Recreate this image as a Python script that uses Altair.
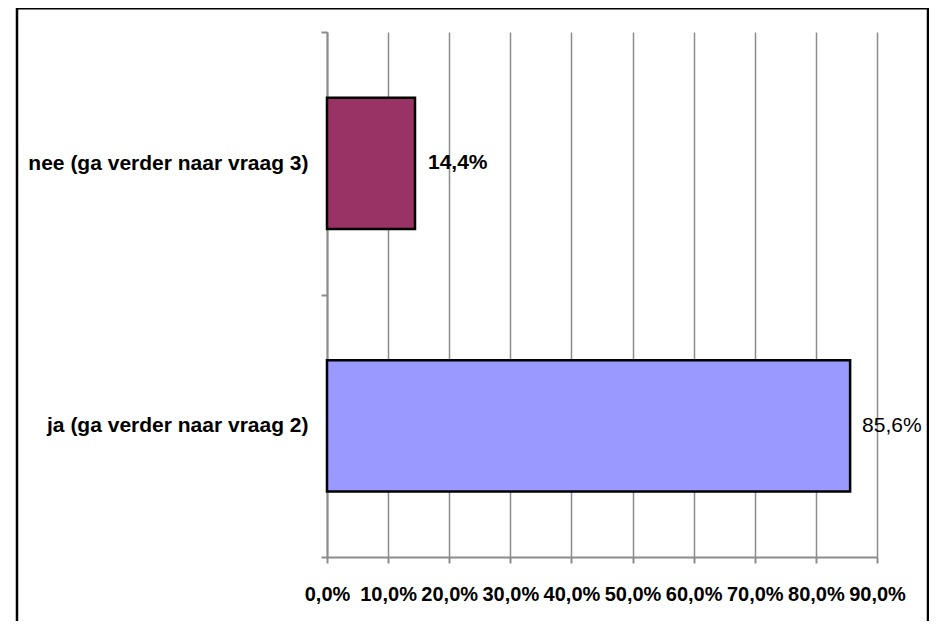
import altair as alt
import pandas as pd

categories = ["nee (ga verder naar vraag 3)", "ja (ga verder naar vraag 2)"]
values = [0.144, 0.856]
colors = ["#993366", "#9999FF"]
x_ticks = [0, 0.1, 0.2, 0.3, 0.4, 0.5, 0.6, 0.7, 0.8, 0.9]

df = pd.DataFrame({"cat": categories, "val": values})

FONT = "Liberation Sans"
GRAY = "#8c8c8c"

pct_expr = "replace(format(datum.value*100, '.1f'), '.', ',') + '%'"

x_enc = alt.X(
    "val:Q",
    scale=alt.Scale(domain=[0, 0.9], nice=False, zero=True),
    axis=alt.Axis(
        values=x_ticks,
        labelExpr=pct_expr,
        title=None,
        grid=True,
        gridColor=GRAY,
        gridWidth=1.5,
        domainColor=GRAY,
        domainWidth=2,
        tickColor=GRAY,
        tickWidth=2,
        tickSize=6,
        labelFont=FONT,
        labelFontSize=20,
        labelFontWeight="bold",
        labelColor="black",
        labelPadding=21,
        labelOverlap=False,
        labelFlush=False,
    ),
)

y_enc = alt.Y(
    "cat:N",
    sort=categories,
    scale=alt.Scale(paddingInner=0, paddingOuter=0),
    axis=alt.Axis(
        title=None,
        tickBand="extent",
        domainColor=GRAY,
        domainWidth=2,
        tickColor=GRAY,
        tickWidth=2,
        tickSize=6,
        labelFont=FONT,
        labelFontSize=21,
        labelFontWeight="bold",
        labelColor="black",
        labelPadding=13,
        labelLimit=0,
        grid=False,
    ),
)

bars = alt.Chart(df).mark_bar(
    stroke="black", strokeWidth=2.5, height={"band": 0.5}
).encode(
    x=x_enc,
    y=y_enc,
    color=alt.Color("cat:N", scale=alt.Scale(domain=categories, range=colors), legend=None),
)

label_base = alt.Chart(df).transform_calculate(
    lbl="replace(format(datum.val*100, '.1f'), '.', ',') + '%'"
)

lbl_nee = label_base.transform_filter(alt.datum.cat == categories[0]).mark_text(
    align="left", baseline="middle", dx=13, font=FONT, fontSize=21, fontWeight="bold", color="black"
).encode(x="val:Q", y=alt.Y("cat:N", sort=categories), text="lbl:N")

lbl_ja = label_base.transform_filter(alt.datum.cat == categories[1]).mark_text(
    align="left", baseline="middle", dx=12, font=FONT, fontSize=21, fontWeight="normal", color="black"
).encode(x="val:Q", y=alt.Y("cat:N", sort=categories), text="lbl:N")

frame_data = alt.Data(values=[{"k": 1}])
frame_left = alt.Chart(frame_data).mark_rule(color="black", strokeWidth=2.5).encode(
    x=alt.value(-310), y=alt.value(-25), y2=alt.value(600)
)
frame_top = alt.Chart(frame_data).mark_rule(color="black", strokeWidth=3).encode(
    x=alt.value(-311), x2=alt.value(602), y=alt.value(-24)
)
frame_right = alt.Chart(frame_data).mark_rule(color="black", strokeWidth=2.5).encode(
    x=alt.value(601), y=alt.value(-25), y2=alt.value(600)
)

chart = alt.layer(bars, lbl_nee, lbl_ja, frame_left, frame_top, frame_right).properties(
    width=550,
    height=525,
    padding={"left": 319, "top": 24, "right": 52, "bottom": 64},
    autosize=alt.AutoSizeParams(type="none"),
    background="white",
).configure_view(stroke=None)

chart.save("out.html", embed_options={"renderer": "svg", "actions": False})
